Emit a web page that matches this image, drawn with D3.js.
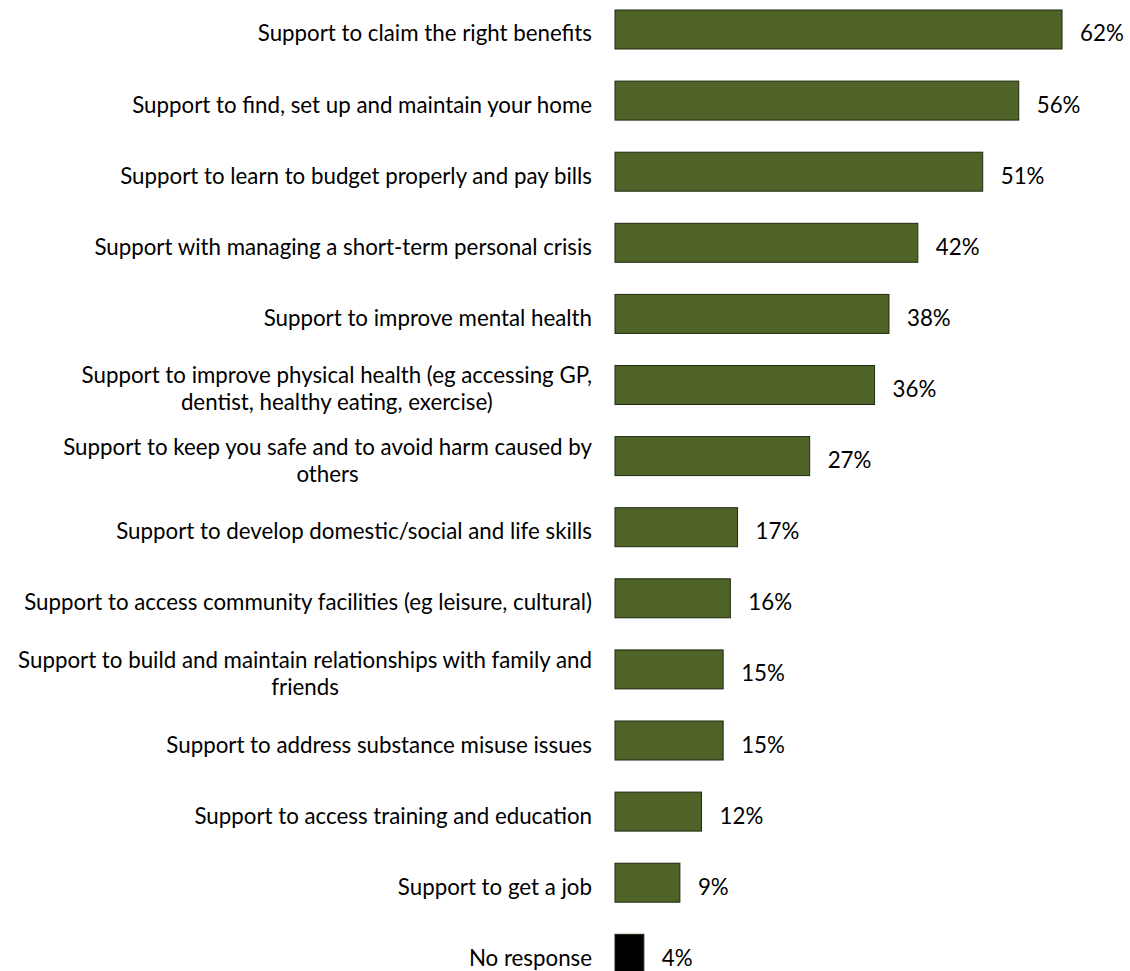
<!DOCTYPE html>
<html><head><meta charset="utf-8">
<script src="https://cdn.jsdelivr.net/npm/d3@7"></script>
<style>body{margin:0;background:#fff}svg{display:block}text{font-family:Lato,"Open Sans",sans-serif;fill:#000}</style>
</head><body><svg id="c" width="1130" height="971"></svg>
<script>
const categories = [
  ["Support to claim the right benefits"],
  ["Support to find, set up and maintain your home"],
  ["Support to learn to budget properly and pay bills"],
  ["Support with managing a short-term personal crisis"],
  ["Support to improve mental health"],
  ["Support to improve physical health (eg accessing GP,", "dentist, healthy eating, exercise)"],
  ["Support to keep you safe and to avoid harm caused by", "others"],
  ["Support to develop domestic/social and life skills"],
  ["Support to access community facilities (eg leisure, cultural)"],
  ["Support to build and maintain relationships with family and", "friends"],
  ["Support to address substance misuse issues"],
  ["Support to access training and education"],
  ["Support to get a job"],
  ["No response"]
];
const values = [62, 56, 51, 42, 38, 36, 27, 17, 16, 15, 15, 12, 9, 4];
const highlight = [false,false,false,false,false,false,false,false,false,false,false,false,false,true];

const svg = d3.select("#c");
const ids = categories.map((d,i)=>i);
const x = d3.scaleLinear().domain([0,100]).range([615, 1336]);
const y = d3.scaleBand().domain(ids).range([-6.05, 989.35]).paddingInner(0.4515).paddingOuter(0.2257);
const fs = 22.3;
const base = 12;

svg.selectAll("rect.bar").data(values).join("rect")
  .attr("x", x(0))
  .attr("y", (d,i)=>y(i))
  .attr("width", d=>x(d)-x(0))
  .attr("height", y.bandwidth())
  .attr("fill", (d,i)=>highlight[i] ? "#000" : "#4F6228")
  .attr("stroke", "#1f2a10").attr("stroke-width", 1);

svg.selectAll("text.val").data(values).join("text")
  .attr("class","val")
  .attr("x", d=>x(d)+18)
  .attr("y", (d,i)=>y(i)+y.bandwidth()/2 + base)
  .attr("font-size", fs)
  .text(d=>d+"%");

const labelRight = 592;
categories.forEach((lines,i)=>{
  const g = svg.append("g");
  const cy = y(i)+y.bandwidth()/2;
  const lh = 27;
  const texts = lines.map((l,j)=> g.append("text").attr("font-size", fs)
      .attr("y", cy + base + (j - (lines.length-1)/2)*lh).text(l));
  if (lines.length === 1) {
    texts[0].attr("x", labelRight).attr("text-anchor","end");
  } else {
    const maxW = d3.max(texts, t=>t.node().getComputedTextLength());
    texts.forEach(t=>t.attr("x", labelRight - maxW/2).attr("text-anchor","middle"));
  }
});
</script></body></html>
